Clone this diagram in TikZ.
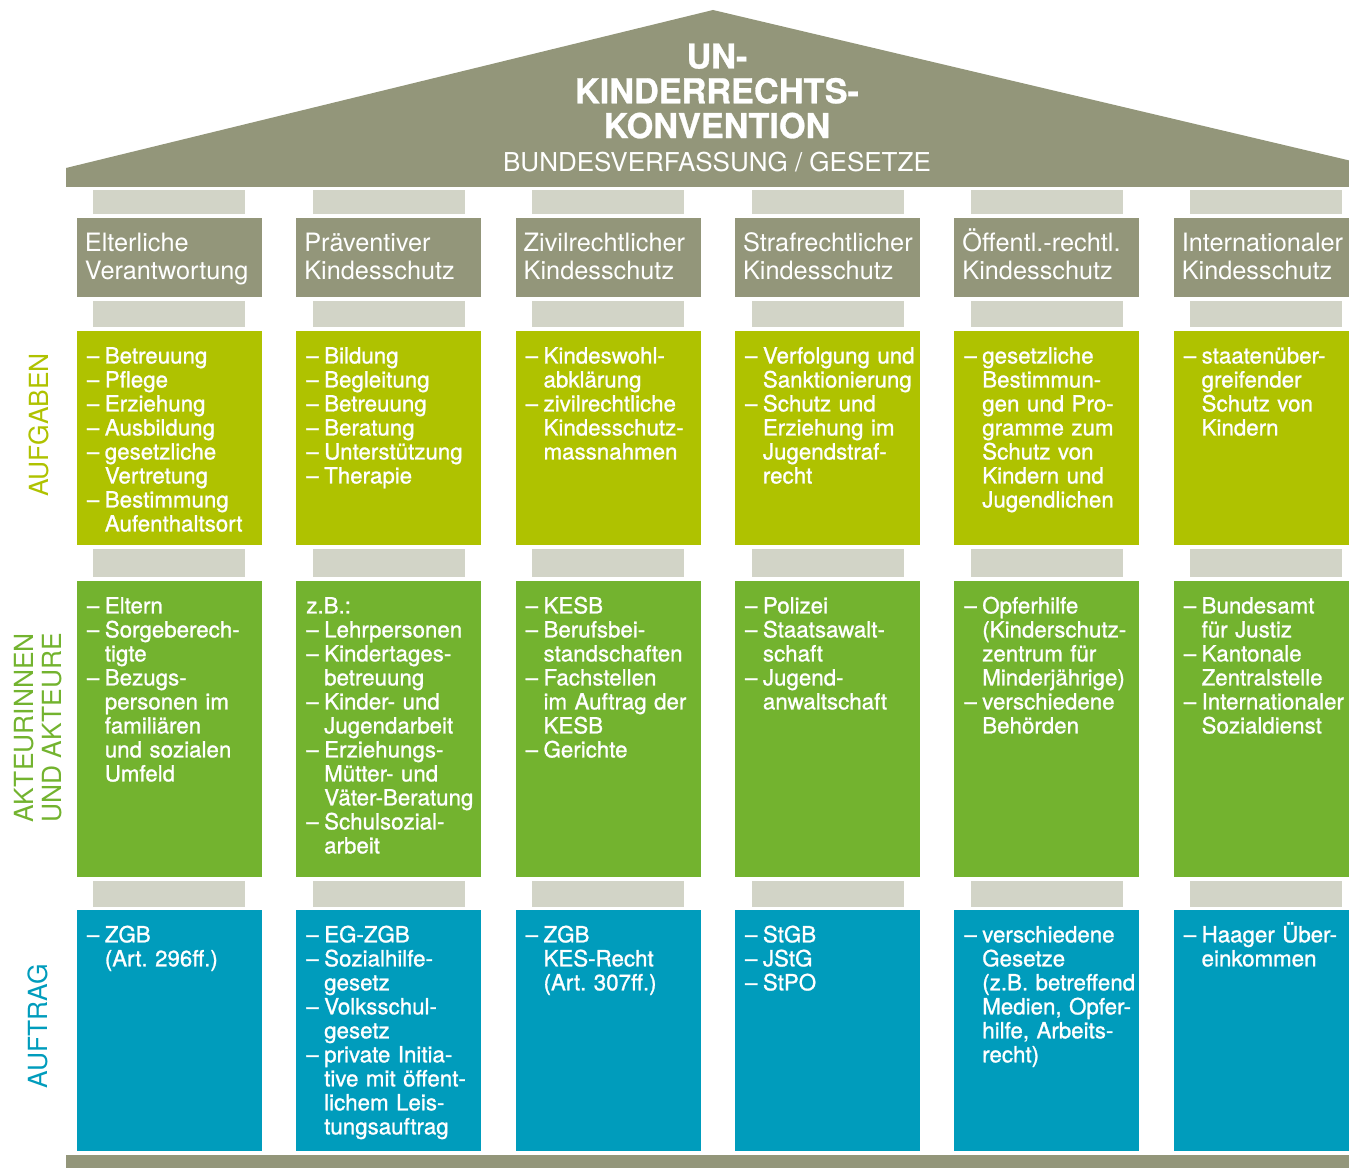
\documentclass[tikz,border=0pt]{standalone}
\usepackage{fontspec}
\setmainfont{TeX Gyre Heros}
\newfontfamily\medfont{TeX Gyre Heros}[FakeBold=1.1]
\usetikzlibrary{positioning}
\definecolor{RoofGrey}{HTML}{93967A}
\definecolor{CapGrey}{HTML}{D2D4C7}
\definecolor{TaskGreen}{HTML}{AFC200}
\definecolor{ActorGreen}{HTML}{73B32F}
\definecolor{LawBlue}{HTML}{009CBC}

% dash of a list item, and the indent of its continuation lines
\newcommand\dsh{\makebox[0.8em][l]{–}}
\newcommand\ctn{\hspace*{0.8em}}

\begin{document}
\begin{tikzpicture}[
    x=0.02cm, y=-0.02cm, outer sep=0pt,
    header/.style={rectangle, fill=RoofGrey, anchor=north west, minimum width=3.7cm,
                   minimum height=1.58cm, inner xsep=0.16cm, text width=3.38cm,
                   align=left, text=white, font=\fontsize{14.4}{15.9}\selectfont,
                   execute at begin node=\rule{0pt}{13.5pt}, execute at end node=\strut},
    capbox/.style={rectangle, fill=CapGrey, minimum width=3.04cm, minimum height=0.52cm, inner sep=0pt},
    cell/.style={rectangle, minimum width=3.7cm, inner sep=0pt},
    celltext/.style={anchor=north west, inner xsep=0.2cm, inner ysep=0.235cm, text width=4cm,
                     align=left, text=white, font=\medfont\fontsize{12.7}{13.66}\selectfont\frenchspacing,
                     execute at begin node=\rule{0pt}{11.8pt}},
    rowlabel/.style={rotate=90, align=left, font=\fontsize{15}{15.9}\selectfont}
]
    \useasboundingbox (0,0) rectangle (1349,1168);
    \clip (0,0) rectangle (1349,1168);

    % Roof and base
    \fill[RoofGrey] (66,187) -- (66,168) -- (713,10) -- (1360,163) -- (1360,187) -- cycle;
    \fill[RoofGrey] (66,1155) rectangle (1360,1172);
    \node[align=center, text=white, font=\bfseries\addfontfeatures{FakeBold=0.8}\fontsize{19.5}{19.8}\selectfont]
        (title) at (717,91) {UN-\\KINDERRECHTS-\\KONVENTION};
    \node[anchor=base, text=white, font=\fontsize{14.8}{16}\selectfont] (subtitle) at (717,172)
        {BUNDESVERFASSUNG / GESETZE};

    % Column heads
    \node[header] (hd1) at (77,218) {Elterliche\\Verantwortung};
    \node[header, right=0.688cm of hd1] (hd2) {Präventiver\\Kindesschutz};
    \node[header, right=0.688cm of hd2] (hd3) {Zivilrechtlicher\\Kindesschutz};
    \node[header, right=0.688cm of hd3] (hd4) {Strafrechtlicher\\Kindesschutz};
    \node[header, right=0.688cm of hd4] (hd5) {Öffentl.-rechtl.\\Kindesschutz};
    \node[header, right=0.688cm of hd5] (hd6) {Internationaler\\Kindesschutz};

    % Column bodies
    \foreach \i in {1,...,6} {
        \node[capbox, minimum height=0.48cm, above=0.08cm of hd\i] (cpt\i) {};
        \node[capbox, below=0.08cm of hd\i] (cpa\i) {};
        \node[cell, fill=TaskGreen, minimum height=4.28cm, below=0.08cm of cpa\i] (tk\i) {};
        \node[capbox, minimum height=0.56cm, below=0.08cm of tk\i] (cpb\i) {};
        \node[cell, fill=ActorGreen, minimum height=5.92cm, below=0.08cm of cpb\i] (ac\i) {};
        \node[capbox, below=0.08cm of ac\i] (cpc\i) {};
        \node[cell, fill=LawBlue, minimum height=4.82cm, below=0.06cm of cpc\i] (lw\i) {};
    }

    % Row labels
    \node[rowlabel, text=TaskGreen] (lbtask) at (38.5,425) {AUFGABEN};
    \node[rowlabel, text=ActorGreen] (lbactor) at (38.5,728) {AKTEURINNEN\\UND AKTEURE};
    \node[rowlabel, text=LawBlue] (lblaw) at (37.5,1026) {AUFTRAG};

    % Aufgaben
    \node[celltext] (tk1t) at (tk1.north west) {\dsh Betreuung\\\dsh Pflege\\\dsh Erziehung\\\dsh Ausbildung\\
        \dsh gesetzliche\\\ctn Vertretung\\\dsh Bestimmung\\\ctn Aufenthaltsort};
    \node[celltext] (tk2t) at (tk2.north west) {\dsh Bildung\\\dsh Begleitung\\\dsh Betreuung\\\dsh Beratung\\
        \dsh Unterstützung\\\dsh Therapie};
    \node[celltext] (tk3t) at (tk3.north west) {\dsh Kindeswohl-\\\ctn abklärung\\\dsh zivilrechtliche\\
        \ctn Kindesschutz-\\\ctn massnahmen};
    \node[celltext] (tk4t) at (tk4.north west) {\dsh Verfolgung und\\\ctn Sanktionierung\\\dsh Schutz und\\
        \ctn Erziehung im\\\ctn Jugendstraf-\\\ctn recht};
    \node[celltext] (tk5t) at (tk5.north west) {\dsh gesetzliche\\\ctn Bestimmun-\\\ctn gen und Pro-\\
        \ctn gramme zum\\\ctn Schutz von\\\ctn Kindern und\\\ctn Jugendlichen};
    \node[celltext] (tk6t) at (tk6.north west) {\dsh staatenüber-\\\ctn greifender\\\ctn Schutz von\\\ctn Kindern};

    % Akteurinnen und Akteure
    \node[celltext] (ac1t) at (ac1.north west) {\dsh Eltern\\\dsh Sorgeberech-\\\ctn tigte\\\dsh Bezugs-\\
        \ctn personen im\\\ctn familiären\\\ctn und sozialen\\\ctn Umfeld};
    \node[celltext] (ac2t) at (ac2.north west) {z.B.:\\\dsh Lehrpersonen\\\dsh Kindertages-\\\ctn betreuung\\
        \dsh Kinder- und\\\ctn Jugendarbeit\\\dsh Erziehungs-\\\ctn Mütter- und\\\ctn Väter-Beratung\\
        \dsh Schulsozial-\\\ctn arbeit};
    \node[celltext] (ac3t) at (ac3.north west) {\dsh KESB\\\dsh Berufsbei-\\\ctn standschaften\\\dsh Fachstellen\\
        \ctn im Auftrag der\\\ctn KESB\\\dsh Gerichte};
    \node[celltext] (ac4t) at (ac4.north west) {\dsh Polizei\\\dsh Staatsawalt-\\\ctn schaft\\\dsh Jugend-\\
        \ctn anwaltschaft};
    \node[celltext] (ac5t) at (ac5.north west) {\dsh Opferhilfe\\\ctn (Kinderschutz-\\\ctn zentrum für\\
        \ctn Minderjährige)\\\dsh verschiedene\\\ctn Behörden};
    \node[celltext] (ac6t) at (ac6.north west) {\dsh Bundesamt\\\ctn für Justiz\\\dsh Kantonale\\
        \ctn Zentralstelle\\\dsh Internationaler\\\ctn Sozialdienst};

    % Auftrag
    \node[celltext] (lw1t) at (lw1.north west) {\dsh ZGB\\\ctn (Art. 296ff.)};
    \node[celltext] (lw2t) at (lw2.north west) {\dsh EG-ZGB\\\dsh Sozialhilfe-\\\ctn gesetz\\\dsh Volksschul-\\
        \ctn gesetz\\\dsh private Initia-\\\ctn tive mit öffent-\\\ctn lichem Leis-\\\ctn tungsauftrag};
    \node[celltext] (lw3t) at (lw3.north west) {\dsh ZGB\\\ctn KES-Recht\\\ctn (Art. 307ff.)};
    \node[celltext] (lw4t) at (lw4.north west) {\dsh StGB\\\dsh JStG\\\dsh StPO};
    \node[celltext] (lw5t) at (lw5.north west) {\dsh verschiedene\\\ctn Gesetze\\\ctn (z.B. betreffend\\
        \ctn Medien, Opfer-\\\ctn hilfe, Arbeits-\\\ctn recht)};
    \node[celltext] (lw6t) at (lw6.north west) {\dsh Haager Über-\\\ctn einkommen};
\end{tikzpicture}
\end{document}
